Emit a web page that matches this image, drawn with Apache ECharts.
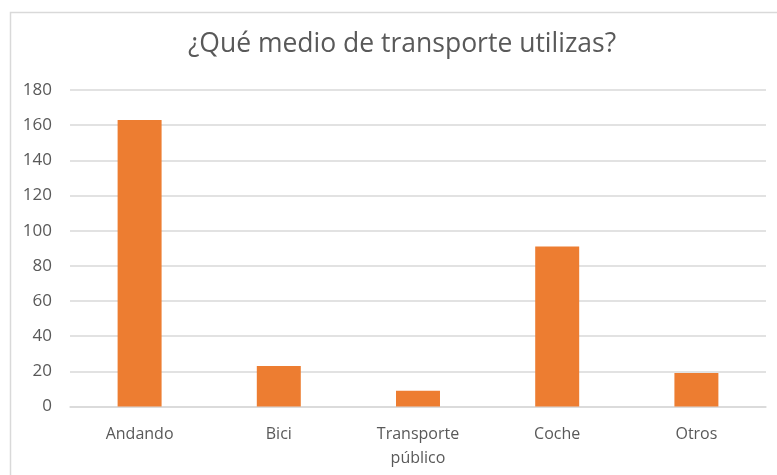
<!DOCTYPE html>
<html>
<head>
<meta charset="utf-8">
<script src="https://cdn.jsdelivr.net/npm/echarts@6/dist/echarts.min.js"></script>
<style>
  html, body { margin: 0; padding: 0; background: #fff; }
  #chart { width: 777px; height: 475px; }
</style>
</head>
<body>
<div id="chart"></div>
<script>
// Survey: how people get around
const titleText = '¿Qué medio de transporte utilizas?';
const categories = ['Andando', 'Bici', 'Transporte\npúblico', 'Coche', 'Otros'];
const counts = [163, 23, 9, 91, 19];
const yTicks = { min: 0, max: 180, interval: 20 };

const textColor = '#595959';
const gridColor = '#d9d9d9';
const barColor = '#ED7D31';
const fontFamily = '"Open Sans", "Noto Sans", sans-serif';

const chart = echarts.init(document.getElementById('chart'), null, { renderer: 'canvas' });

chart.setOption({
  animation: false,
  backgroundColor: '#ffffff',
  textStyle: { fontFamily: fontFamily },
  title: {
    text: titleText,
    left: 397,
    textAlign: 'center',
    top: 26,
    textStyle: { color: textColor, fontSize: 26.5, fontWeight: 'normal', fontFamily: fontFamily }
  },
  graphic: [{
    type: 'rect',
    left: 8,
    top: 10,
    shape: { width: 800, height: 500 },
    style: { fill: 'none', stroke: gridColor, lineWidth: 1.5 },
    silent: true,
    z: -1
  }],
  grid: { left: 70, right: 11, top: 90, bottom: 68.5, containLabel: false },
  xAxis: {
    type: 'category',
    data: categories,
    axisLine: { show: true, lineStyle: { color: gridColor, width: 1.5 } },
    axisTick: { show: false },
    axisLabel: {
      color: textColor,
      fontSize: 16,
      margin: 16,
      lineHeight: 24,
      fontFamily: fontFamily
    }
  },
  yAxis: {
    type: 'value',
    min: yTicks.min,
    max: yTicks.max,
    interval: yTicks.interval,
    axisLine: { show: false },
    axisTick: { show: false },
    splitLine: { lineStyle: { color: gridColor, width: 1.5 } },
    axisLabel: { color: textColor, fontSize: 17, margin: 18, fontFamily: fontFamily }
  },
  series: [{
    type: 'bar',
    data: counts,
    barWidth: '31.6%',
    itemStyle: { color: barColor }
  }]
});
</script>
</body>
</html>
